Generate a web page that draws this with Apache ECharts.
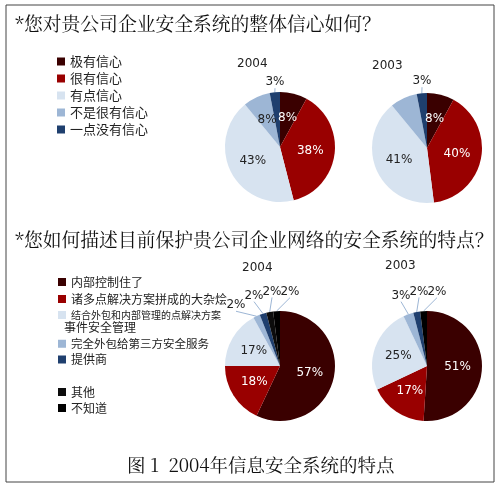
<!DOCTYPE html>
<html>
<head>
<meta charset="utf-8">
<script src="https://cdn.jsdelivr.net/npm/echarts@6/dist/echarts.min.js"></script>
<style>
  html, body { margin: 0; padding: 0; background: #fff; }
  #echart { width: 500px; height: 485px; }
</style>
</head>
<body>
<div id="echart"></div>
<script>
// 数据
var confidenceCats = ['极有信心', '很有信心', '有点信心', '不是很有信心', '一点没有信心'];
var confidence2004 = [8, 38, 43, 8, 3];
var confidence2003 = [8, 40, 41, 8, 3];

var featureCats = ['内部控制住了', '诸多点解决方案拼成的大杂烩', '结合外包和内部管理的点解决方案',
    '完全外包给第三方安全服务', '提供商', '其他', '不知道'];
var feature2004 = [57, 18, 17, 2, 2, 2, 2];
var feature2003 = [51, 17, 25, 3, 2, 0, 2];

var yearLabels = ['2004', '2003'];

// 颜色 / 标签方式
var confidenceColors = ['#3a0000', '#990000', '#d7e3f0', '#9db6d5', '#1f3f6e'];
var featureColors = ['#3a0000', '#990000', '#d7e3f0', '#9db6d5', '#1f3f6e', '#0c0c0c', '#000000'];
var lightSlice = [false, false, true, true, false, false, false];
var conf2004Mode = ['in', 'in', 'in', 'in', 'out'];
var conf2003Mode = ['in', 'in', 'in', 'none', 'out'];
var feat2004Mode = ['in', 'in', 'in', 'out', 'out', 'out', 'out'];
var feat2003Mode = ['in', 'in', 'in', 'out', 'out', 'out', 'out'];

var FONT = '"Noto Sans CJK SC", sans-serif';
var SERIF = '"Noto Serif CJK SC", "Liberation Serif", "Noto Sans CJK SC", serif';
var R = 55;

function buildData(cats, vals, colors, modes) {
    var arr = [];
    for (var i = 0; i < cats.length; i++) {
        var mode = vals[i] === 0 ? 'none' : modes[i];
        var item = {
            name: cats[i],
            value: vals[i],
            itemStyle: { color: colors[i] }
        };
        if (mode == 'in') {
            item.label = { show: true, position: 'inside', color: lightSlice[i] ? '#222' : '#fff' };
            item.labelLine = { show: false };
        } else if (mode == 'out') {
            item.label = { show: true, position: 'outside', color: '#222' };
            item.labelLine = { show: true, length: 6, length2: 2, lineStyle: { color: '#9db6d5', width: 1 } };
        } else {
            item.label = { show: false };
            item.labelLine = { show: false };
        }
        arr.push(item);
    }
    return arr;
}

// 小扇区的外部标签沿饼图顶部横向排开
function spreadLayout(center, vals, modes, lastDx, ring) {
    var outIdx = [];
    for (var i = 0; i < vals.length; i++) {
        if (vals[i] !== 0 && modes[i] == 'out') outIdx.push(i);
    }
    var n = outIdx.length;
    return function (params) {
        var k = outIdx.indexOf(params.dataIndex);
        if (k < 0) return {};
        var dx = (k - (n - 1)) * 18 + lastDx;
        var dy = Math.sqrt(ring * ring - dx * dx);
        var x = center[0] + dx;
        var y = center[1] - dy;
        var start = params.labelLinePoints ? params.labelLinePoints[0] : [x, y + 6];
        return {
            x: x,
            y: y,
            align: 'center',
            verticalAlign: 'middle',
            labelLinePoints: [start, [x, y + 6], [x, y + 6]]
        };
    };
}

function pie(cats, vals, colors, modes, center, lastDx, ring) {
    return {
        type: 'pie',
        center: center,
        radius: R,
        startAngle: 90,
        clockwise: true,
        silent: true,
        avoidLabelOverlap: false,
        minShowLabelAngle: 0,
        label: {
            formatter: '{c}%',
            fontSize: 12,
            fontFamily: 'DejaVu Sans'
        },
        itemStyle: { borderWidth: 0 },
        labelLayout: spreadLayout(center, vals, modes, lastDx, ring),
        data: buildData(cats, vals, colors, modes)
    };
}

var dom = document.getElementById('echart');
var myChart = echarts.init(dom);

var legendText = { fontSize: 13, fontFamily: FONT, color: '#222' };
var legendText2 = { fontSize: 12, fontFamily: FONT, color: '#222' };
var yearStyle = { fontSize: 12, fontWeight: 'normal', fontFamily: 'DejaVu Sans', color: '#222' };
var headStyle = { fontSize: 18.8, fontWeight: 'normal', fontFamily: SERIF, color: '#111' };

var option = {
    animation: false,
    backgroundColor: '#fff',
    title: [
        { text: '*您对贵公司企业安全系统的整体信心如何？', left: 10, top: 9, textStyle: headStyle },
        { text: '*您如何描述目前保护贵公司企业网络的安全系统的特点？', left: 10, top: 225, textStyle: headStyle },
        { text: '图 1  2004年信息安全系统的特点', left: 122, top: 451,
          textStyle: { fontSize: 18.5, fontWeight: 'normal', fontFamily: SERIF, color: '#111' } },
        { text: yearLabels[0], left: 232, top: 53, textStyle: yearStyle },
        { text: yearLabels[1], left: 367, top: 55, textStyle: yearStyle },
        { text: yearLabels[0], left: 237, top: 257, textStyle: yearStyle },
        { text: yearLabels[1], left: 380, top: 255, textStyle: yearStyle }
    ],
    legend: [
        { orient: 'vertical', left: 52, top: 50, itemWidth: 8, itemHeight: 8, itemGap: 4,
          icon: 'rect', textStyle: legendText, selectedMode: false, data: confidenceCats },
        { orient: 'vertical', left: 53, top: 271, itemWidth: 8, itemHeight: 8, itemGap: 5, itemTextGap: 3,
          icon: 'rect', textStyle: legendText2, selectedMode: false,
          data: [featureCats[0], featureCats[1], { name: featureCats[2], textStyle: { fontSize: 10 } }] },
        { orient: 'vertical', left: 53, top: 333, itemWidth: 8, itemHeight: 8, itemGap: 4, itemTextGap: 3,
          icon: 'rect', textStyle: legendText2, selectedMode: false,
          data: [{ name: featureCats[3], textStyle: { fontSize: 11.5 } }, featureCats[4]] },
        { orient: 'vertical', left: 53, top: 381, itemWidth: 8, itemHeight: 8, itemGap: 4, itemTextGap: 3,
          icon: 'rect', textStyle: legendText2, selectedMode: false,
          data: [featureCats[5], featureCats[6]] }
    ],
    graphic: [
        { type: 'rect', shape: { x: 6, y: 5, width: 488, height: 477 }, silent: true,
          style: { fill: 'none', stroke: '#444', lineWidth: 1 } },
        { type: 'text', left: 64, top: 321, silent: true,
          style: { text: '事件安全管理', fontSize: 12, fontFamily: FONT, fill: '#222' } }
    ],
    series: [
        pie(confidenceCats, confidence2004, confidenceColors, conf2004Mode, [280, 147], -5, R + 10),
        pie(confidenceCats, confidence2003, confidenceColors, conf2003Mode, [427, 148], -5, R + 12),
        pie(featureCats, feature2004, featureColors, feat2004Mode, [280, 366], 10, R + 20),
        pie(featureCats, feature2003, featureColors, feat2003Mode, [427, 366], 10, R + 20)
    ]
};

myChart.setOption(option, window.onresize = myChart.resize);
</script>
</body>
</html>
